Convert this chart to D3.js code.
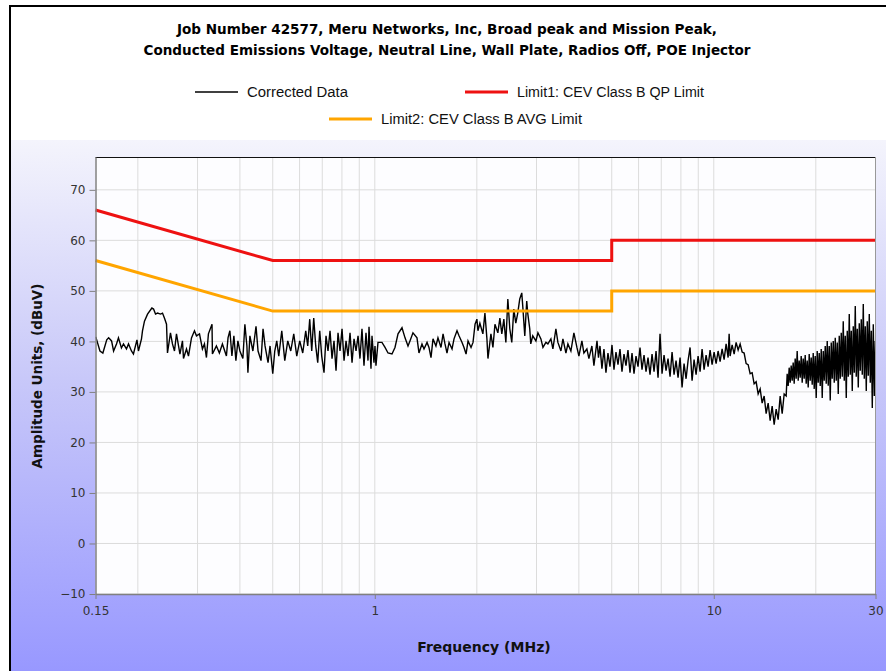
<!DOCTYPE html>
<html>
<head>
<meta charset="utf-8">
<script src="https://cdn.jsdelivr.net/npm/d3@7"></script>
<style>
  body { margin: 0; background: #fff; }
  text { font-family: "DejaVu Sans", sans-serif; }
</style>
</head>
<body>
<div id="chart"></div>
<script>
var titleLines = ["Job Number 42577, Meru Networks, Inc, Broad peak and Mission Peak,",
                  "Conducted Emissions Voltage, Neutral Line, Wall Plate, Radios Off, POE Injector"];
var seriesNames = ["Corrected Data", "Limit1: CEV Class B QP Limit", "Limit2: CEV Class B AVG Limit"];
var xTickLabels = [0.15, 1, 10, 30];
var xGridValues = [0.2,0.3,0.4,0.5,0.6,0.7,0.8,0.9,1,2,3,4,5,6,7,8,9,10,20,30];
var yTickValues = [-10, 0, 10, 20, 30, 40, 50, 60, 70];

// limit lines (MHz, dBuV)
var limitQP  = [[0.15,66],[0.5,56],[5,56],[5,60],[30,60]];
var limitAVG = [[0.15,56],[0.5,46],[5,46],[5,50],[30,50]];

var correctedData = [
 [0.1503,40.9],[0.1546,38.1],[0.1577,37.7],[0.1619,40.3],[0.1640,40.7],[0.1673,40.1],[0.1696,38.1],[0.1730,39.5],
 [0.1753,40.7],[0.1789,38.7],[0.1814,39.5],[0.1851,38.5],[0.1877,39.5],[0.1915,38.1],[0.1941,37.5],[0.1988,40.3],
 [0.2008,38.1],[0.2050,40.5],[0.2064,42.1],[0.2092,44.0],[0.2136,45.4],[0.2200,46.6],[0.2225,46.4],[0.2255,45.4],
 [0.2286,45.6],[0.2333,45.4],[0.2365,45.6],[0.2397,44.6],[0.2430,43.4],[0.2446,37.7],[0.2496,41.7],[0.2530,39.5],
 [0.2565,38.1],[0.2600,41.5],[0.2662,37.5],[0.2708,40.1],[0.2727,36.6],[0.2783,38.5],[0.2821,37.1],[0.2879,40.7],
 [0.2938,42.1],[0.2978,41.1],[0.3040,41.5],[0.3101,38.5],[0.3144,39.5],[0.3187,36.8],[0.3230,41.5],[0.3310,43.4],
 [0.3319,37.5],[0.3410,39.1],[0.3480,37.7],[0.3552,39.5],[0.3650,37.1],[0.3690,40.7],
 [0.3737,42.1],[0.3789,37.1],[0.3840,41.1],[0.3893,36.2],[0.3946,40.1],[0.4000,38.1],[0.4082,36.6],[0.4138,43.4],
 [0.4195,39.1],[0.4224,33.8],[0.4281,41.1],[0.4369,38.1],[0.4463,43.0],[0.4525,38.1],[0.4617,36.2],[0.4681,42.5],
 [0.4745,39.1],[0.4843,35.8],[0.4909,39.1],[0.5000,33.6],[0.5069,38.1],[0.5138,40.1],[0.5209,37.1],[0.5316,42.1],
 [0.5426,36.2],[0.5537,40.1],[0.5651,38.1],[0.5767,41.5],[0.5886,37.1],[0.6006,40.1],[0.6130,37.7],[0.6256,42.1],
 [0.6341,39.1],[0.6428,44.4],[0.6516,38.1],[0.6605,44.6],[0.6695,39.1],[0.6787,35.8],[0.6880,42.1],[0.6974,37.1],
 [0.7083,33.8],[0.7180,41.1],[0.7278,38.1],[0.7378,42.1],[0.7479,36.6],[0.7581,40.1],[0.7685,34.2],[0.7790,41.7],
 [0.7897,38.1],[0.8005,42.5],[0.8115,36.2],[0.8226,40.1],[0.8338,37.1],[0.8452,41.7],[0.8568,35.8],[0.8685,40.5],
 [0.8804,38.1],[0.8925,41.1],[0.9043,36.6],[0.9167,42.5],
 [0.9293,35.2],[0.9420,41.7],[0.9550,36.2],[0.9615,42.9],[0.9745,34.6],[0.9812,41.1],[0.9945,35.8],[1.0014,39.1],
 [1.008,35.2],[1.022,39.8],[1.050,39.8],[1.072,38.8],[1.094,37.7],[1.124,37.5],[1.147,38.8],[1.171,41.5],
 [1.203,42.7],[1.228,40.7],[1.253,39.1],[1.270,40.1],[1.296,41.7],[1.332,40.7],[1.350,37.7],[1.378,39.5],
 [1.397,38.5],[1.426,39.8],[1.445,38.8],[1.465,36.8],[1.485,40.5],[1.515,39.1],[1.536,40.7],[1.568,38.8],
 [1.590,41.5],[1.611,39.5],[1.633,37.7],[1.656,39.8],[1.690,38.5],[1.713,40.5],[1.748,42.1],[1.772,41.1],
 [1.809,39.8],[1.833,38.8],[1.859,37.5],[1.884,40.1],[1.923,38.8],[1.949,39.8],[1.976,43.4],[2.001,44.4],
 [2.015,42.1],[2.042,43.6],[2.084,41.5],[2.113,45.6],[2.142,40.5],[2.157,36.6],[2.201,41.5],[2.231,38.8],
 [2.262,43.4],
 [2.307,41.7],[2.339,44.6],[2.370,41.5],[2.403,44.4],[2.436,39.8],[2.469,48.4],[2.502,42.5],[2.536,39.8],
 [2.571,46.4],[2.606,43.6],[2.641,45.6],[2.677,48.4],[2.714,49.6],[2.732,47.0],[2.770,41.1],[2.807,48.0],
 [2.826,45.6],[2.865,42.5],[2.885,39.5],[2.924,41.1],[2.988,40.1],[3.029,41.7],[3.091,40.5],[3.134,38.8],
 [3.198,39.8],[3.241,39.5],[3.308,40.5],[3.353,38.5],[3.422,42.5],[3.469,39.8],[3.541,38.1],[3.589,40.5],
 [3.663,37.7],[3.713,39.5],[3.789,38.1],[3.867,41.7],[3.947,38.8],[4.001,37.1],[4.083,40.1],[4.139,37.7],
 [4.224,38.5],[4.282,36.6],[4.370,39.1],[4.430,35.2],[4.524,40.1],[4.570,36.8],
 [4.616,39.1],[4.679,34.6],[4.743,38.5],[4.808,33.8],[4.874,37.7],[4.941,35.0],[5.009,39.3],[5.077,34.4],
 [5.147,37.9],[5.217,35.4],[5.289,38.5],[5.361,34.0],[5.435,37.5],[5.509,35.2],[5.584,38.3],[5.661,33.8],
 [5.739,37.7],[5.817,33.6],[5.897,37.1],[5.978,35.0],[6.059,38.8],[6.142,34.4],[6.227,37.3],[6.312,34.0],
 [6.398,36.8],[6.486,33.4],[6.575,37.5],[6.665,34.0],[6.756,38.1],[6.849,32.8],[6.942,41.5],[7.037,33.6],
 [7.134,37.3],[7.231,34.2],[7.330,36.6],[7.431,33.0],[7.533,37.9],[7.636,33.4],[7.740,36.2],[7.846,32.8],
 [7.954,36.8],[8.063,30.9],[8.173,35.6],[8.285,32.6],[8.399,36.2],[8.513,38.8],[8.630,32.2],[8.748,36.4],
 [8.868,33.4],[8.990,37.1],[9.112,34.0],[9.237,38.5],[9.363,34.4],[9.492,37.3],[9.622,35.0],[9.754,38.3],
 [9.887,35.4],[10.023,37.9],[10.160,35.6],[10.299,38.1],[10.440,36.0],[10.583,38.5],[10.728,36.4],[10.875,39.5],
 [11.024,36.8],[11.100,41.5],[11.175,37.1],[11.328,39.3],[11.483,37.5],[11.640,39.8],[11.800,38.3],[11.961,39.5],
 [12.125,37.9],[12.291,37.7],[12.459,35.6],[12.630,35.4],[12.803,33.6],[12.978,33.8],[13.156,31.6],[13.336,32.0],
 [13.518,29.6],[13.704,30.6],[13.891,27.8],[14.082,29.2],[14.274,25.7],[14.470,27.8],[14.668,24.3],[14.869,27.2],
 [15.072,23.5],[15.278,26.6],[15.487,24.5],[15.700,29.2],[15.915,25.7],[16.132,29.6],
 [16.353,29.2],[16.465,33.6],[16.577,31.2],[16.690,34.8],[16.805,31.8],[16.919,35.2],[17.035,32.2],[17.151,35.8],
 [17.268,31.6],[17.386,36.6],[17.504,32.6],[17.624,38.1],[17.744,32.2],[17.865,36.2],[17.988,32.8],[18.110,37.1],
 [18.234,31.8],[18.358,36.6],[18.484,32.6],[18.610,37.3],[18.737,31.6],[18.865,36.2],[18.993,30.9],[19.123,37.5],
 [19.254,32.2],[19.385,36.8],[19.517,31.4],[19.651,37.7],[19.785,30.6],[19.920,37.1],[20.055,28.8],[20.192,38.1],
 [20.330,31.8],[20.469,37.7],[20.609,31.2],[20.749,38.5],[20.891,28.8],[21.034,38.1],[21.177,32.2],[21.322,39.1],
 [21.467,31.6],[21.614,40.1],[21.761,31.2],[21.910,39.1],[22.059,28.3],[22.210,39.8],[22.361,32.6],[22.514,40.1],
 [22.668,31.8],[22.822,40.7],[22.978,32.2],[23.135,39.8],[23.293,29.6],[23.451,41.1],[23.611,32.6],[23.772,41.7],
 [23.935,33.0],[24.098,44.0],[24.263,32.2],[24.428,41.1],[24.595,28.8],[24.763,42.1],[24.932,33.0],[25.102,45.4],
 [25.273,33.4],[25.446,42.1],[25.619,30.2],[25.794,43.0],[25.970,33.8],[26.147,47.0],[26.325,33.0],[26.505,42.5],
 [26.686,30.9],[26.868,43.6],[27.051,34.2],[27.236,44.4],[27.421,33.4],[27.609,47.4],[27.797,32.6],[27.987,43.0],
 [28.177,30.2],[28.370,44.0],[28.563,33.2],[28.758,45.4],[28.955,31.8],[29.152,42.1],[29.351,26.8],[29.552,43.4],
 [29.753,29.2],[29.956,40.1],[30.0,29.2]
];

var W = 886, H = 671;
var margin = {top: 157, right: 10.5, bottom: 77, left: 95.5};
var width = W - margin.left - margin.right,
    height = H - margin.top - margin.bottom;

var x = d3.scaleLog().domain([0.15, 30]).range([0, width]);
var y = d3.scaleLinear().domain([-10, 76.5]).range([height, 0]);

var svg = d3.select("#chart").append("svg")
    .attr("width", W)
    .attr("height", H);

var defs = svg.append("defs");
var grad = defs.append("linearGradient")
    .attr("id", "bg")
    .attr("x1", 0).attr("y1", 0).attr("x2", 0).attr("y2", 1);
grad.append("stop").attr("offset", "0%").attr("stop-color", "#f4f4fc");
grad.append("stop").attr("offset", "45%").attr("stop-color", "#c8c8f9");
grad.append("stop").attr("offset", "100%").attr("stop-color", "#9898ff");

svg.append("rect").attr("width", W).attr("height", H).attr("fill", "#fff");
svg.append("rect")
    .attr("x", 11).attr("y", 140)
    .attr("width", W - 11).attr("height", H - 140)
    .attr("fill", "url(#bg)");
// outer frame
svg.append("path")
    .attr("d", "M10," + H + "V6H" + W)
    .attr("fill", "none")
    .attr("stroke", "#000")
    .attr("stroke-width", 2);

// title
svg.selectAll(".title")
    .data(titleLines)
  .enter().append("text")
    .attr("class", "title")
    .attr("x", 447)
    .attr("y", function(d, i) { return 34 + i * 21; })
    .attr("text-anchor", "middle")
    .attr("textLength", function(d, i) { return i === 0 ? 540 : 607; })
    .attr("lengthAdjust", "spacingAndGlyphs")
    .style("font-family", "'DejaVu Sans Condensed', 'DejaVu Sans', sans-serif")
    .style("font-weight", "bold")
    .style("font-size", "14px")
    .text(function(d) { return d; });

// legend
var legendItems = [
  {name: seriesNames[0], color: "#000", w: 1.5, x: 195, y: 92, len: 101},
  {name: seriesNames[1], color: "#ee1111", w: 3, x: 465, y: 92, len: 187},
  {name: seriesNames[2], color: "#ffa500", w: 3, x: 329, y: 119, len: 201}
];
var legend = svg.selectAll(".legend")
    .data(legendItems)
  .enter().append("g")
    .attr("class", "legend")
    .attr("transform", function(d) { return "translate(" + d.x + "," + d.y + ")"; });
legend.append("line")
    .attr("x1", 0).attr("x2", 43)
    .attr("stroke", function(d) { return d.color; })
    .attr("stroke-width", function(d) { return d.w; });
legend.append("text")
    .attr("x", 52).attr("dy", "0.35em")
    .attr("textLength", function(d) { return d.len; })
    .attr("lengthAdjust", "spacingAndGlyphs")
    .style("font-family", "'Liberation Sans', Arial, sans-serif")
    .style("font-size", "14px")
    .style("fill", "#111")
    .text(function(d) { return d.name; });

var g = svg.append("g")
    .attr("transform", "translate(" + margin.left + "," + margin.top + ")");

svg.append("defs").append("clipPath")
    .attr("id", "clip")
  .append("rect")
    .attr("width", width)
    .attr("height", height);

g.append("rect")
    .attr("width", width).attr("height", height)
    .attr("fill", "#fdfdff");

// grid
g.append("g").selectAll("line")
    .data(xGridValues)
  .enter().append("line")
    .attr("x1", function(d) { return x(d); })
    .attr("x2", function(d) { return x(d); })
    .attr("y1", 0).attr("y2", height)
    .attr("stroke", "#dcdcdc");
g.append("g").selectAll("line")
    .data(yTickValues)
  .enter().append("line")
    .attr("x1", 0).attr("x2", width)
    .attr("y1", function(d) { return y(d); })
    .attr("y2", function(d) { return y(d); })
    .attr("stroke", "#dcdcdc");

var line = d3.line()
    .x(function(d) { return x(d[0]); })
    .y(function(d) { return y(d[1]); });

g.append("path")
    .datum(correctedData)
    .attr("d", line)
    .attr("fill", "none")
    .attr("stroke", "#000")
    .attr("stroke-width", 1.4)
    .attr("clip-path", "url(#clip)");

g.append("path")
    .datum(limitAVG)
    .attr("d", line)
    .attr("fill", "none")
    .attr("stroke", "#ffa500")
    .attr("stroke-width", 3);

g.append("path")
    .datum(limitQP)
    .attr("d", line)
    .attr("fill", "none")
    .attr("stroke", "#ee1111")
    .attr("stroke-width", 3);

// border
g.append("line").attr("x1", 0).attr("x2", width).attr("y1", 0.5).attr("y2", 0.5)
    .attr("stroke", "#111");
g.append("line").attr("x1", width).attr("x2", width).attr("y1", 0).attr("y2", height)
    .attr("stroke", "#999");

// axes
var xAxis = d3.axisBottom(x)
    .tickValues(xTickLabels)
    .tickFormat(d3.format("~g"))
    .tickSize(5).tickSizeOuter(0);
var yAxis = d3.axisLeft(y)
    .tickValues(yTickValues)
    .tickSize(6).tickSizeOuter(0);

var gx = g.append("g")
    .attr("transform", "translate(0," + height + ")")
    .call(xAxis);
var gy = g.append("g").call(yAxis);

[gx, gy].forEach(function(ax) {
  ax.select(".domain").attr("stroke", "#808080").attr("stroke-width", 1.5);
  ax.selectAll(".tick line").attr("stroke", "#808080");
  ax.selectAll(".tick text")
    .style("font-family", "'DejaVu Sans', sans-serif")
    .style("font-size", "12px")
    .attr("fill", "#333");
});
gx.selectAll(".tick text").attr("dy", "1.1em");
gy.selectAll(".tick text").attr("x", -10);

// axis titles
svg.append("text")
    .attr("x", 484)
    .attr("y", 652)
    .attr("text-anchor", "middle")
    .style("font-weight", "bold")
    .style("font-size", "14px")
    .style("fill", "#111")
    .text("Frequency (MHz)");

svg.append("text")
    .attr("transform", "translate(42," + 376 + ") rotate(-90)")
    .attr("text-anchor", "middle")
    .style("font-weight", "bold")
    .style("font-size", "13.5px")
    .style("fill", "#111")
    .text("Amplitude Units, (dBuV)");
</script>
</body>
</html>
